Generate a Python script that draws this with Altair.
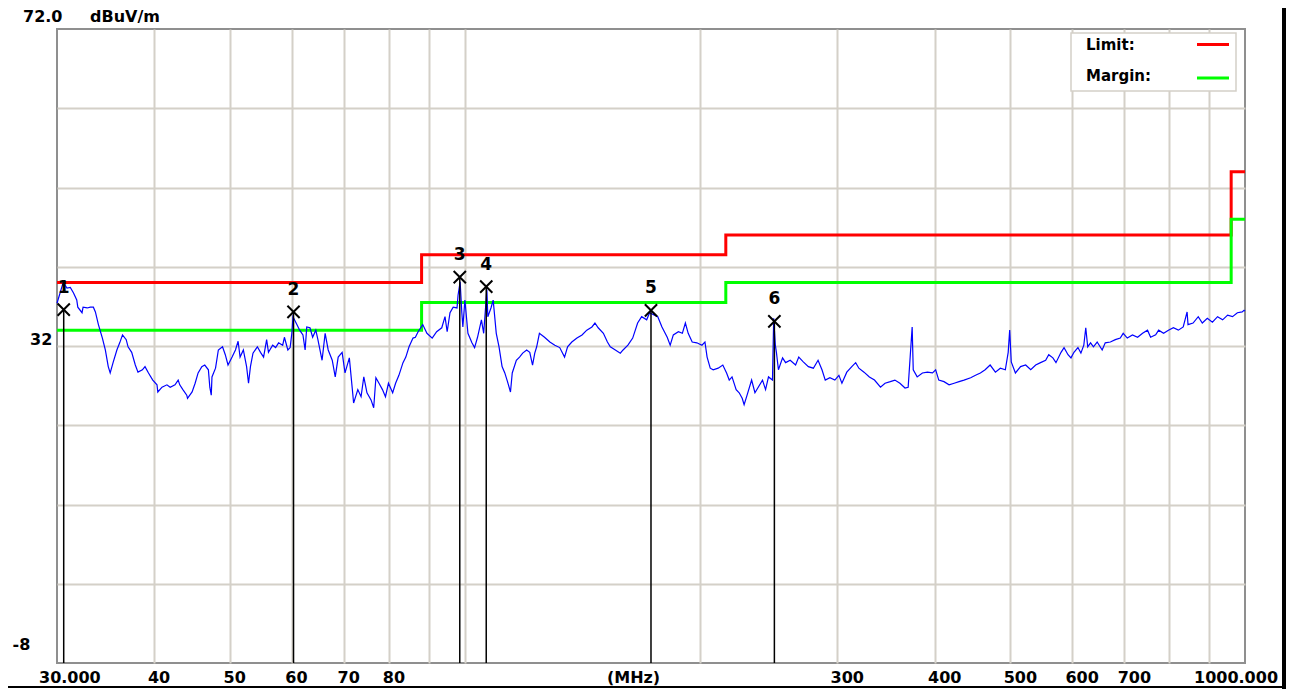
import altair as alt
import pandas as pd

# ---------------- data ----------------
trace_freq = [
    30.0, 30.55, 30.9, 31.2, 31.5, 31.8, 31.9, 32.3, 32.4, 32.8, 33.1, 33.4, 33.6, 33.9, 34.3, 34.6,
    34.9, 35.1, 35.4, 35.8, 36.1, 36.4, 36.8, 37.0, 37.4, 37.8, 38.1, 38.6, 38.9, 39.3, 39.8, 40.3,
    40.4, 40.9, 41.5, 41.9, 42.5, 42.9, 43.1, 43.5, 44.0, 44.1, 44.7, 45.1, 45.5, 46.0, 46.4, 46.9,
    47.1, 47.3, 47.4, 47.9, 48.3, 48.9, 49.3, 49.7, 50.3, 50.8, 51.2, 51.5, 52.0, 52.5, 52.8, 53.1,
    53.5, 54.2, 54.7, 55.2, 55.7, 56.0, 56.7, 57.2, 57.7, 58.4, 58.7, 59.3, 59.7, 60.0, 60.2, 60.9,
    61.4, 62.0, 62.4, 62.7, 63.3, 63.8, 64.4, 64.8, 65.6, 66.2, 66.8, 67.6, 68.2, 68.8, 69.6, 70.2,
    71.1, 71.8, 72.0, 72.9, 73.6, 74.2, 74.9, 75.8, 76.4, 76.9, 77.6, 78.4, 79.1, 79.8, 80.8, 81.5,
    82.3, 83.3, 84.0, 84.8, 85.8, 86.4, 87.1, 88.3, 89.4, 90.8, 92.0, 93.4, 94.3, 94.9, 95.7, 96.6,
    97.7, 98.0, 98.6, 99.1, 99.4, 100.0, 100.9, 102.1, 102.9, 103.8, 105.0, 105.7, 106.7, 107.0, 108.0, 108.7,
    109.7, 110.6, 111.6, 112.5, 113.4, 114.4, 115.0, 116.4, 117.5, 118.6, 120.0, 121.1, 122.1, 122.9, 123.6, 124.6,
    126.5, 128.5, 130.4, 132.3, 134.2, 135.4, 137.1, 139.2, 141.3, 143.3, 145.5, 146.8, 148.2, 150.5, 152.3, 153.6,
    155.9, 158.2, 159.5, 161.8, 164.1, 166.5, 168.5, 171.0, 172.5, 175.0, 176.7, 178.9, 181.7, 183.3, 185.0, 187.8,
    190.0, 191.7, 193.3, 195.6, 198.3, 201.3, 203.1, 204.4, 206.3, 208.1, 211.2, 214.1, 216.5, 218.2, 220.0, 222.7,
    224.7, 226.7, 228.0, 230.0, 233.1, 235.4, 237.7, 240.7, 242.9, 245.0, 247.9, 248.8, 250.0, 250.8, 252.3, 255.4,
    257.7, 261.2, 265.4, 267.9, 271.5, 275.6, 279.7, 283.6, 286.9, 289.7, 293.7, 298.0, 301.6, 304.3, 308.7, 313.3,
    316.9, 319.9, 324.8, 330.0, 335.0, 341.0, 345.6, 351.0, 355.8, 361.1, 366.6, 370.0, 374.4, 375.6, 380.0, 385.9,
    391.6, 397.6, 401.3, 405.0, 411.3, 417.5, 423.8, 430.0, 436.3, 445.0, 451.4, 457.9, 464.4, 471.3, 478.7, 485.7,
    492.9, 497.1, 499.3, 501.6, 507.8, 515.6, 523.4, 531.3, 539.1, 546.9, 555.2, 560.3, 567.2, 572.4, 581.0, 586.2,
    593.1, 598.3, 603.6, 610.7, 616.1, 621.4, 625.0, 628.6, 633.9, 639.3, 646.4, 656.0, 662.0, 672.0, 682.0, 692.0,
    698.0, 706.5, 717.4, 728.3, 739.1, 750.0, 756.8, 768.2, 775.0, 786.4, 797.7, 809.5, 821.4, 833.3, 842.9, 845.2,
    857.9, 871.1, 881.6, 894.7, 908.3, 922.2, 936.1, 950.0, 963.9, 977.8, 991.7, 997.2, 1000.0,
]
trace_level = [
    37.4, 40.0, 39.3, 39.4, 38.7, 37.8, 36.9, 36.2, 36.9, 36.8, 36.9, 36.9, 36.3, 34.7, 33.0, 31.5,
    29.4, 28.6, 29.9, 31.5, 32.4, 33.4, 32.8, 31.9, 31.2, 29.6, 28.7, 29.0, 29.4, 28.6, 27.7, 27.1,
    26.2, 26.8, 27.1, 26.8, 27.1, 27.7, 27.1, 26.5, 25.8, 25.4, 26.2, 27.3, 28.6, 29.4, 29.6, 29.0,
    26.8, 25.8, 28.1, 29.2, 31.5, 31.9, 30.9, 29.6, 30.6, 31.5, 32.6, 30.6, 31.5, 29.4, 27.3, 29.4,
    31.1, 31.9, 31.2, 30.6, 32.8, 31.2, 32.1, 31.8, 32.4, 32.1, 33.1, 31.5, 31.8, 33.6, 35.7, 34.7,
    34.0, 33.4, 31.5, 34.4, 34.3, 33.1, 34.0, 32.8, 30.2, 33.6, 31.5, 30.2, 28.1, 30.6, 31.2, 28.6,
    30.5, 26.1, 24.8, 26.5, 25.6, 28.1, 26.1, 25.2, 24.2, 28.0, 27.3, 26.5, 25.6, 27.3, 26.1, 27.3,
    28.3, 29.9, 30.6, 31.9, 33.0, 33.1, 33.8, 34.7, 33.6, 33.0, 33.8, 34.3, 35.7, 33.8, 36.2, 36.9,
    36.8, 38.4, 40.1, 36.2, 34.4, 37.8, 33.6, 32.4, 31.8, 33.1, 35.3, 33.6, 39.1, 35.7, 36.8, 37.8,
    33.6, 31.9, 29.4, 28.6, 27.5, 26.2, 28.6, 30.2, 30.6, 31.1, 31.5, 31.2, 29.6, 31.1, 31.9, 33.6,
    33.1, 32.5, 32.1, 31.8, 30.6, 31.9, 32.5, 33.0, 33.4, 34.0, 34.4, 34.9, 34.3, 33.6, 32.5, 31.9,
    31.5, 31.1, 31.5, 32.1, 33.0, 34.9, 35.7, 35.3, 36.2, 35.9, 35.7, 34.4, 33.1, 32.1, 33.4, 33.8,
    33.6, 34.9, 33.6, 32.5, 32.4, 32.1, 32.5, 30.6, 29.2, 29.0, 29.2, 29.6, 28.6, 27.7, 28.1, 26.5,
    26.1, 25.4, 24.6, 25.8, 27.7, 26.1, 26.8, 27.7, 26.5, 28.1, 27.7, 35.5, 32.1, 31.2, 29.0, 30.5,
    29.9, 30.2, 29.6, 30.6, 30.0, 29.4, 29.2, 30.2, 29.0, 27.7, 28.0, 27.7, 28.3, 27.3, 28.7, 29.4,
    29.9, 29.2, 28.7, 28.1, 27.7, 26.8, 27.3, 27.5, 27.7, 27.3, 26.7, 26.8, 34.4, 29.0, 28.1, 28.6,
    28.7, 28.6, 29.0, 27.7, 27.5, 27.1, 27.3, 27.5, 27.7, 28.0, 28.3, 28.6, 29.0, 29.6, 28.7, 29.2,
    29.0, 31.2, 34.0, 30.0, 28.6, 29.4, 29.6, 29.0, 29.6, 29.9, 30.2, 30.9, 30.5, 29.9, 31.2, 31.8,
    30.9, 30.5, 31.2, 31.8, 31.1, 32.1, 34.3, 31.9, 32.4, 31.9, 32.5, 31.5, 32.4, 32.5, 32.8, 33.0,
    33.6, 33.0, 33.4, 33.1, 33.6, 34.0, 33.1, 33.4, 34.0, 33.6, 34.0, 34.3, 34.0, 34.4, 36.3, 34.7,
    34.9, 35.7, 34.9, 35.5, 35.0, 35.7, 35.3, 35.9, 35.7, 36.2, 36.3, 36.5, 36.4,
]

limit_freq = [30, 88, 216, 960, 1000]
limit_level = [40.0, 43.5, 46.0, 54.0, 54.0]
margin_level = [34.0, 37.5, 40.0, 48.0, 48.0]

marker_id = ["1", "2", "3", "4", "5", "6"]
marker_freq = [30.6, 60.3, 98.5, 106.5, 173.2, 249.3]
marker_level = [36.6, 36.3, 40.7, 39.5, 36.5, 35.1]

x_grid = [40, 50, 60, 70, 80, 90, 100, 200, 300, 400, 500, 600, 700, 800, 900]
y_grid = [62, 52, 42, 32, 22, 12, 2]

x_tick_values = [40, 50, 60, 70, 80, 300, 400, 500, 600, 700]
x_tick_labels = ["40", "50", "60", "70", "80", "300", "400", "500", "600", "700"]
x_start_value, x_start_label = [30], ["30.000"]
x_end_value, x_end_label = [1000], ["1000.000"]
x_unit_value, x_unit_label = [164.5], ["(MHz)"]

y_top_value, y_top_label = [72], ["72.0"]
y_mid_value, y_mid_label = [32], ["32"]
y_bot_value, y_bot_label = [-8], ["-8"]
y_unit_label = ["dBuV/m"]

legend_labels = ["Limit:", "Margin:"]

# ---------------- chart ----------------
W, H = 1188, 634
FONT = "DejaVu Sans"
GRID = "#d4d0c8"

xscale = alt.Scale(type="log", domain=[30, 1000], nice=False)
yscale = alt.Scale(domain=[-8, 72], nice=False, zero=False)
xaxis = alt.Axis(values=x_grid, grid=True, labels=False, ticks=False, domain=False,
                 title=None, gridColor=GRID, gridWidth=2, gridOpacity=1)
yaxis = alt.Axis(values=y_grid, grid=True, labels=False, ticks=False, domain=False,
                 title=None, gridColor=GRID, gridWidth=2, gridOpacity=1)


def X(f):
    return alt.X(f, type="quantitative", scale=xscale, axis=xaxis)


def Y(f):
    return alt.Y(f, type="quantitative", scale=yscale, axis=yaxis)


trace_df = pd.DataFrame({"freq": trace_freq, "level": trace_level})
limit_df = pd.DataFrame({"freq": limit_freq, "limit": limit_level, "margin": margin_level})
marker_df = pd.DataFrame({"freq": marker_freq, "level": marker_level, "id": marker_id})
xtick_df = pd.DataFrame({"freq": x_tick_values, "label": x_tick_labels})
xstart_df = pd.DataFrame({"freq": x_start_value, "label": x_start_label})
xend_df = pd.DataFrame({"freq": x_end_value, "label": x_end_label})
xunit_df = pd.DataFrame({"freq": x_unit_value, "label": x_unit_label})
ytop_df = pd.DataFrame({"level": y_top_value, "label": y_top_label})
ymid_df = pd.DataFrame({"level": y_mid_value, "label": y_mid_label})
ybot_df = pd.DataFrame({"level": y_bot_value, "label": y_bot_label})
yunit_df = pd.DataFrame({"level": y_top_value, "label": y_unit_label})
one = pd.DataFrame({"k": [0]})
leg_df = pd.DataFrame({"label": legend_labels})

txt = dict(font=FONT, fontWeight="bold", color="black", baseline="middle")

limit_line = alt.Chart(limit_df).mark_line(color="#ff0000", strokeWidth=3, interpolate="step-after").encode(
    x=X("freq"), y=Y("limit"))
margin_line = alt.Chart(limit_df).mark_line(color="#00ff00", strokeWidth=3, interpolate="step-after").encode(
    x=X("freq"), y=Y("margin"))
trace = alt.Chart(trace_df).mark_line(color="#0000ff", strokeWidth=1.2).encode(x=X("freq"), y=Y("level"))
marker_rules = alt.Chart(marker_df).mark_rule(color="black", strokeWidth=1.5).encode(
    x=X("freq"), y=Y("level"), y2=alt.value(H))
marker_x = alt.Chart(marker_df).mark_point(shape="M-1,-1L1,1M-1,1L1,-1", size=150, filled=False,
                                           stroke="black", strokeWidth=2, opacity=1).encode(
    x=X("freq"), y=Y("level"))
marker_num = alt.Chart(marker_df).mark_text(fontSize=17, dy=-22, align="center", **txt).encode(
    x=X("freq"), y=Y("level"), text="id:N")

XLAB_Y = 648.5
xticks = alt.Chart(xtick_df).mark_text(fontSize=16, align="left", dx=-6.5, **txt).encode(
    x=X("freq"), y=alt.value(XLAB_Y), text="label:N")
xstart = alt.Chart(xstart_df).mark_text(fontSize=16, align="left", dx=-18, **txt).encode(
    x=X("freq"), y=alt.value(XLAB_Y), text="label:N")
xend = alt.Chart(xend_df).mark_text(fontSize=16, align="left", dx=-51, **txt).encode(
    x=X("freq"), y=alt.value(XLAB_Y), text="label:N")
xunit = alt.Chart(xunit_df).mark_text(fontSize=16, align="center", **txt).encode(
    x=X("freq"), y=alt.value(XLAB_Y), text="label:N")

ytop = alt.Chart(ytop_df).mark_text(fontSize=16, align="left", dy=-12.5, **txt).encode(
    x=alt.value(-34), y=Y("level"), text="label:N")
yunit = alt.Chart(yunit_df).mark_text(fontSize=16, align="left", dy=-12.5, **txt).encode(
    x=alt.value(33), y=Y("level"), text="label:N")
ymid = alt.Chart(ymid_df).mark_text(fontSize=16, align="left", dy=-6, **txt).encode(
    x=alt.value(-27), y=Y("level"), text="label:N")
ybot = alt.Chart(ybot_df).mark_text(fontSize=16, align="left", dy=-18, **txt).encode(
    x=alt.value(-44.5), y=Y("level"), text="label:N")

# legend box (decoration)
leg_box = alt.Chart(one).mark_rect(fill="white", stroke=GRID, strokeWidth=1.5).encode(
    x=alt.value(1014), x2=alt.value(1179), y=alt.value(4), y2=alt.value(62))
leg_txt1 = alt.Chart(leg_df).transform_filter(alt.datum.label == "Limit:").mark_text(
    fontSize=15, align="left", **txt).encode(x=alt.value(1029), y=alt.value(16), text="label:N")
leg_txt2 = alt.Chart(leg_df).transform_filter(alt.datum.label == "Margin:").mark_text(
    fontSize=15, align="left", **txt).encode(x=alt.value(1029), y=alt.value(46.5), text="label:N")
leg_red = alt.Chart(one).mark_rule(color="#ff0000", strokeWidth=3).encode(
    x=alt.value(1140), x2=alt.value(1172), y=alt.value(15.5))
leg_green = alt.Chart(one).mark_rule(color="#00ff00", strokeWidth=3).encode(
    x=alt.value(1140), x2=alt.value(1172), y=alt.value(49))

# outer frame lines of the picture
frame_right = alt.Chart(one).mark_rule(color="black", strokeWidth=4).encode(
    x=alt.value(1227), y=alt.value(-21), y2=alt.value(H + 26))
frame_bottom = alt.Chart(one).mark_rule(color="black", strokeWidth=2).encode(
    x=alt.value(-49), x2=alt.value(1229), y=alt.value(H + 24))

chart = alt.layer(
    limit_line, margin_line, trace, marker_rules, marker_x, marker_num,
    xticks, xstart, xend, xunit, ytop, yunit, ymid, ybot,
    leg_box, leg_txt1, leg_txt2, leg_red, leg_green,
    frame_right, frame_bottom,
).properties(
    width=W, height=H,
    padding={"left": 49, "top": 21, "right": 41, "bottom": 26},
    autosize=alt.AutoSizeParams(type="none"),
    background="white",
).configure_view(stroke="#8f8f8f", strokeWidth=2)

chart.save("out.html", embed_options={"renderer": "svg", "actions": False})
